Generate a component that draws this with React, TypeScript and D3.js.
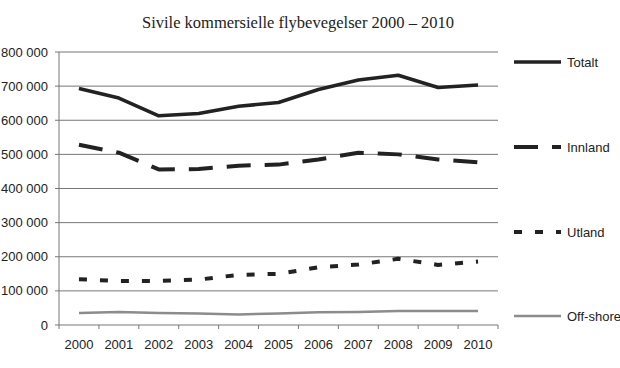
import React from "react";
import * as d3 from "d3";

const years = ["2000","2001","2002","2003","2004","2005","2006","2007","2008","2009","2010"];
const totalt = [693000, 665000, 613000, 620000, 641000, 652000, 690000, 718000, 732000, 696000, 703000];
const innland = [528000, 505000, 456000, 457000, 467000, 470000, 485000, 505000, 500000, 485000, 477000];
const utland = [134000, 129000, 129000, 133000, 147000, 150000, 169000, 177000, 194000, 176000, 186000];
const offshore = [35000, 38000, 35000, 34000, 31000, 34000, 37000, 38000, 41000, 41000, 41000];
const yTicks = [0, 100000, 200000, 300000, 400000, 500000, 600000, 700000, 800000];

const series = [
  { name: "Totalt", values: totalt, color: "#222", width: 3.5, dash: "none", ly: 62 },
  { name: "Innland", values: innland, color: "#222", width: 4, dash: "24,14", ly: 147 },
  { name: "Utland", values: utland, color: "#222", width: 4, dash: "8,13", ly: 232 },
  { name: "Off-shore", values: offshore, color: "#8c8c8c", width: 2.5, dash: "none", ly: 316 },
];

export default function App() {
  const W = 620, H = 368;
  const left = 59, right = 498, top = 52, bottom = 325;
  const x = d3.scaleBand().domain(years).range([left, right]);
  const y = d3.scaleLinear().domain([0, 800000]).range([bottom, top]);
  const fmt = (v: number) => (v === 0 ? "0" : d3.format(",")(v).replace(/,/g, " "));
  const line = d3.line<number>()
    .x((_, i) => (x(years[i]) as number) + x.bandwidth() / 2)
    .y((d) => y(d));
  return (
    <svg width={W} height={H} style={{ position: "absolute", left: 0, top: 0 }}>
      <rect width={W} height={H} fill="#fff" />
      <text x={298} y={28} textAnchor="middle" fontFamily="Liberation Serif" fontSize={16.5} fill="#222">
        Sivile kommersielle flybevegelser 2000 – 2010
      </text>
      {yTicks.map((t) => (
        <g key={t}>
          {t > 0 && <line x1={left} x2={right} y1={y(t)} y2={y(t)} stroke="#777" strokeWidth={1} />}
          <line x1={left - 4} x2={left} y1={y(t)} y2={y(t)} stroke="#777" strokeWidth={1} />
          <text x={48} y={y(t) + 4.5} textAnchor="end" fontFamily="Liberation Sans" fontSize={13} fill="#222">
            {fmt(t)}
          </text>
        </g>
      ))}
      <line x1={left} x2={left} y1={top} y2={bottom} stroke="#777" strokeWidth={1} />
      <line x1={left} x2={right} y1={bottom} y2={bottom} stroke="#777" strokeWidth={1} />
      {years.map((yr, i) => (
        <line key={"t" + yr} x1={(x(yr) as number)} x2={(x(yr) as number)} y1={bottom} y2={bottom + 4} stroke="#777" />
      ))}
      <line x1={right} x2={right} y1={bottom} y2={bottom + 4} stroke="#777" />
      {years.map((yr) => (
        <text key={yr} x={(x(yr) as number) + x.bandwidth() / 2} y={349} textAnchor="middle" fontFamily="Liberation Sans" fontSize={13} fill="#222">
          {yr}
        </text>
      ))}
      {series.map((s) => (
        <path key={s.name} d={line(s.values) as string} fill="none" stroke={s.color} strokeWidth={s.width}
          strokeDasharray={s.dash} strokeLinejoin="round" />
      ))}
      {series.map((s) => (
        <g key={"l" + s.name}>
          <line x1={514} x2={561} y1={s.ly} y2={s.ly} stroke={s.color} strokeWidth={s.width} strokeDasharray={s.dash} />
          <text x={567} y={s.ly + 4.5} fontFamily="Liberation Sans" fontSize={13} fill="#222">{s.name}</text>
        </g>
      ))}
    </svg>
  );
}
